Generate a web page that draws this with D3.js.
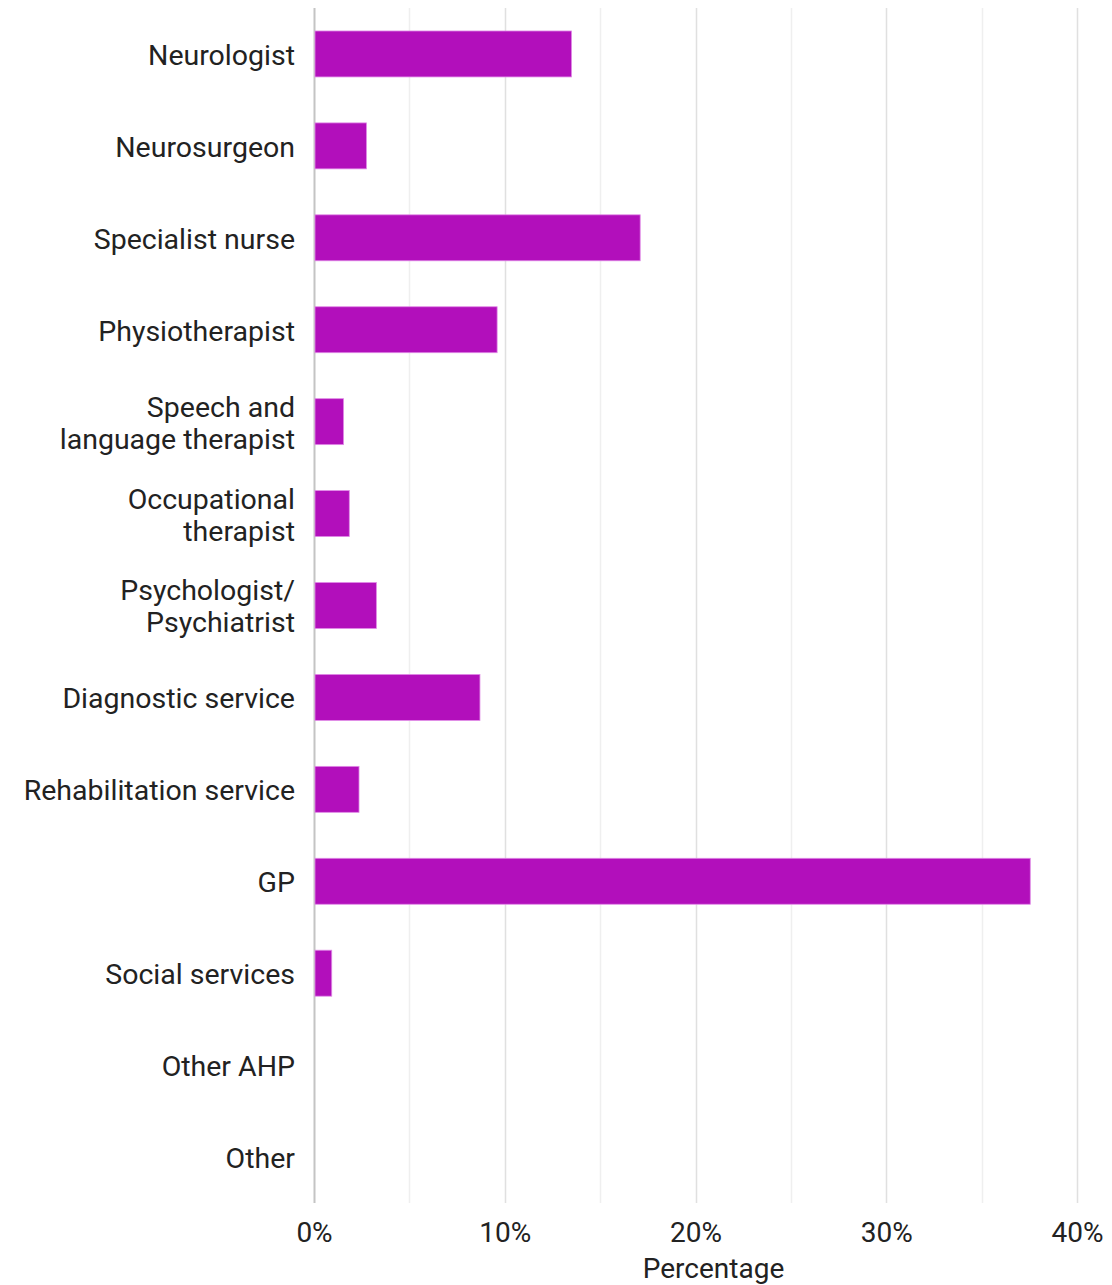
<!DOCTYPE html>
<meta charset="utf-8">
<style>
body { margin: 0; background: #fff; }
svg text { font-family: Roboto, "Noto Sans", sans-serif; fill: #222; }
.tick line { shape-rendering: crispEdges; }
</style>
<body>
<script src="https://d3js.org/d3.v7.min.js"></script>
<script>

// data
var categories = [
  ["Neurologist"],
  ["Neurosurgeon"],
  ["Specialist nurse"],
  ["Physiotherapist"],
  ["Speech and", "language therapist"],
  ["Occupational", "therapist"],
  ["Psychologist/", "Psychiatrist"],
  ["Diagnostic service"],
  ["Rehabilitation service"],
  ["GP"],
  ["Social services"],
  ["Other AHP"],
  ["Other"]
];
var values = [13.5, 2.75, 17.1, 9.6, 1.55, 1.85, 3.27, 8.7, 2.36, 37.55, 0.93, 0, 0];
var xTicks = [0, 10, 20, 30, 40];
var xMinorTicks = [5, 15, 25, 35];
var xTitle = "Percentage";

var margin = {top: 8, right: 35, bottom: 82, left: 314};
var width = 1112 - margin.left - margin.right;
var height = 1285 - margin.top - margin.bottom;

var svg = d3.select("body").append("svg")
    .attr("width", 1112)
    .attr("height", 1285)
  .append("g")
    .attr("transform", "translate(" + margin.left + "," + margin.top + ")");

var x = d3.scaleLinear().domain([0, 40]).range([0, width]);
var keys = categories.map(function(c) { return c.join(" "); });
var y = d3.scaleBand().domain(keys).range([0, height])
    .paddingInner(0.5).paddingOuter(0.25);

// minor gridlines
svg.selectAll(".minor")
   .data(xMinorTicks)
   .enter().append("line")
     .attr("class", "minor")
     .attr("x1", function(d) { return Math.round(x(d)) + 0.5; })
     .attr("x2", function(d) { return Math.round(x(d)) + 0.5; })
     .attr("y1", 0).attr("y2", height)
     .style("stroke", "#efefef").style("stroke-width", 1.5);

// major gridlines
svg.selectAll(".major")
   .data(xTicks)
   .enter().append("line")
     .attr("class", "major")
     .attr("x1", function(d) { return Math.round(x(d)) + 0.5; })
     .attr("x2", function(d) { return Math.round(x(d)) + 0.5; })
     .attr("y1", 0).attr("y2", height)
     .style("stroke", function(d) { return d === 0 ? "#c4c4c4" : "#e0e0e0"; })
     .style("stroke-width", function(d) { return d === 0 ? 2 : 1.5; });

// bars
svg.selectAll(".bar")
   .data(values)
   .enter().append("rect")
     .attr("class", "bar")
     .attr("x", x(0) + 1)
     .attr("y", function(d, i) { return y(keys[i]); })
     .attr("width", function(d) { return Math.max(0, x(d) - x(0) - 1); })
     .attr("height", y.bandwidth())
     .style("fill", "#b20fbb")
     .style("stroke", function(d) { return d > 0 ? "#e08ae6" : "none"; })
     .style("stroke-width", 0.8);

// category labels
var labels = svg.selectAll(".cat")
   .data(categories)
   .enter().append("text")
     .attr("class", "cat")
     .attr("text-anchor", "end")
     .style("font-size", "28.5px")
     .attr("transform", function(d, i) {
       return "translate(-19," + (y(keys[i]) + y.bandwidth() / 2 + 1) + ")";
     });

labels.selectAll("tspan")
   .data(function(d) { return d; })
   .enter().append("tspan")
     .attr("x", 0)
     .attr("y", function(d, j, nodes) {
       var n = nodes.length;
       return (j - (n - 1) / 2) * 32;
     })
     .attr("dy", "0.35em")
     .text(function(d) { return d; });

// x axis tick labels
var xAxis = d3.axisBottom(x)
    .tickValues(xTicks)
    .tickSize(0)
    .tickPadding(19)
    .tickFormat(function(d) { return d + "%"; });

var gx = svg.append("g")
   .attr("transform", "translate(0," + height + ")")
   .call(xAxis);
gx.select(".domain").remove();
gx.selectAll("text")
   .style("font-size", "28px")
   .style("font-family", "Roboto, sans-serif")
   .attr("fill", "#222");

svg.append("text")
   .attr("x", width / 2 + 18)
   .attr("y", height + 75)
   .attr("text-anchor", "middle")
   .style("font-size", "28px")
   .text(xTitle);

</script>
</body>
